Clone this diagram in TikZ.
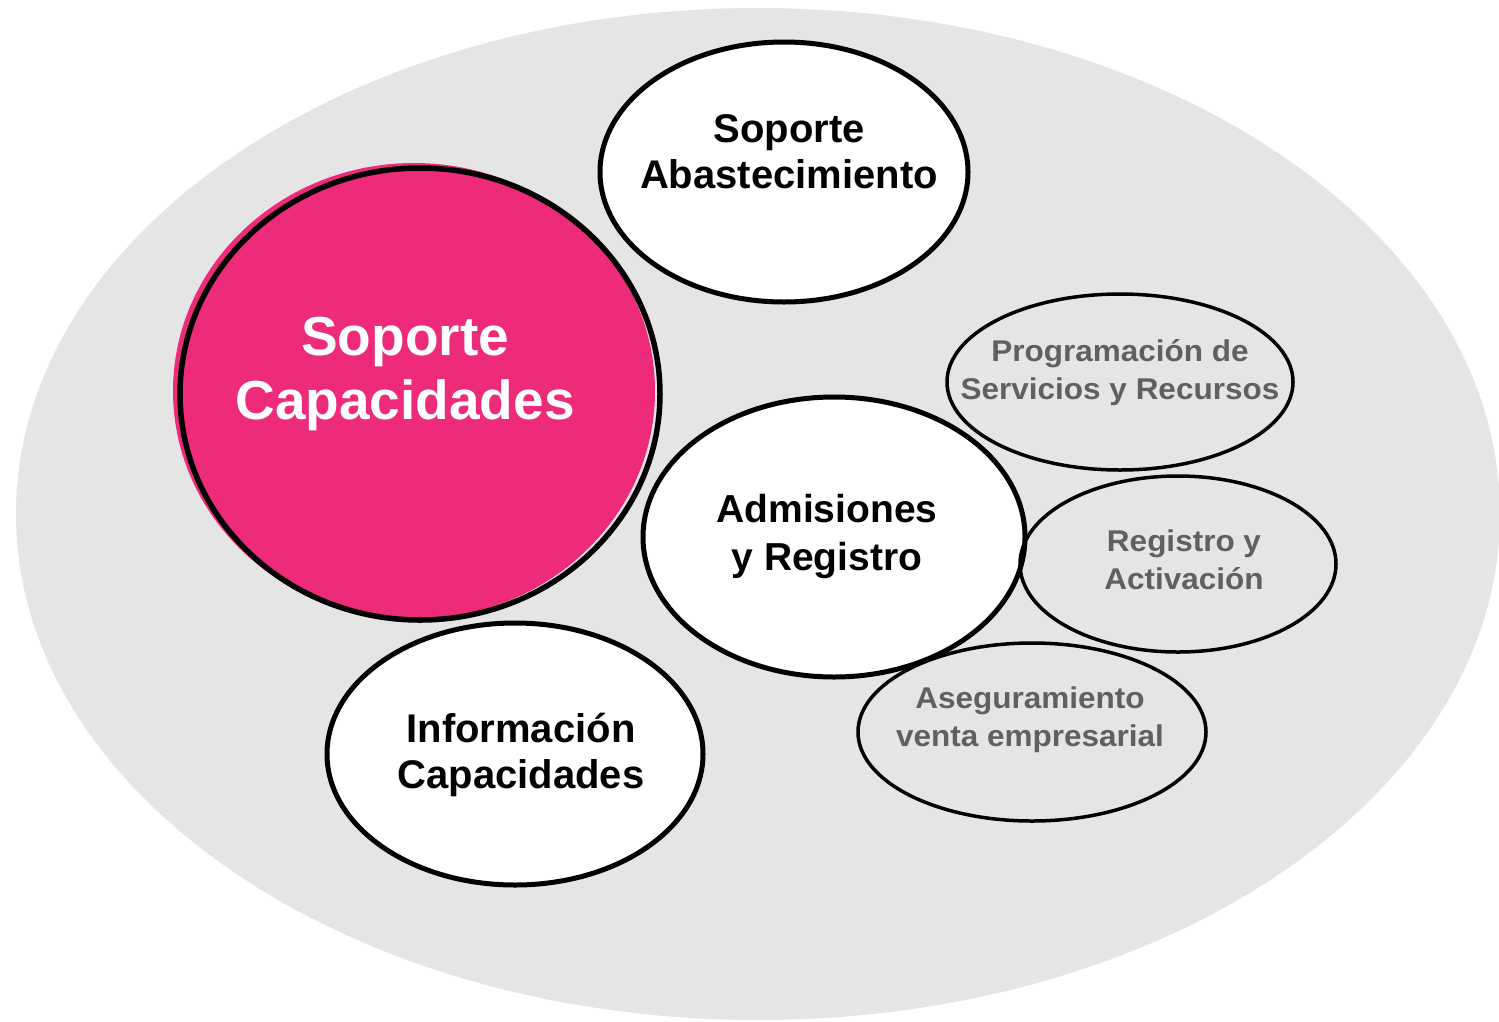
\documentclass[tikz,border=0pt]{standalone}
\usepackage{fontspec}
\setmainfont{Liberation Sans}
\newfontfamily\grayfont[FakeStretch=1.05]{Liberation Sans Bold}
\newfontfamily\pinkfont{Liberation Sans Bold}
\usetikzlibrary{shapes.geometric}
\definecolor{pinkfill}{RGB}{238,42,123}
\definecolor{bggray}{RGB}{229,229,229}
\definecolor{textgray}{RGB}{96,96,96}
\begin{document}
\begin{tikzpicture}[x=1pt,y=-1pt,
  blob/.style={ellipse, inner sep=0pt, line width=5pt, draw=black},
  small/.style={ellipse, inner sep=0pt, line width=3.5pt, draw=black},
  bigtext/.style={align=center, font=\bfseries\fontsize{40}{46}\selectfont, text=black},
  graytext/.style={align=center, font=\grayfont\fontsize{30}{38}\selectfont, text=textgray}]
\useasboundingbox (0,0) rectangle (1499,1021);
\node[ellipse, fill=bggray, inner sep=0pt, minimum width=1484pt, minimum height=1012pt] (bg) at (758,514) {};
\node[blob, fill=white, minimum width=368pt, minimum height=260pt] (abast) at (784,172) {};
\fill[pinkfill] (414,391) ellipse [x radius=241pt, y radius=228pt];
\node[blob, line width=5.5pt, minimum width=480pt, minimum height=452pt] (cap) at (420,394) {};
\node[blob, fill=white, minimum width=382pt, minimum height=280pt] (adm) at (834,537) {};
\node[blob, fill=white, minimum width=376pt, minimum height=262pt] (info) at (515,754) {};
\node[small, minimum width=346pt, minimum height=176pt] (prog) at (1120,382) {};
\node[small, minimum width=316pt, minimum height=176pt] (reg) at (1178,564) {};
\node[small, minimum width=348pt, minimum height=178pt] (aseg) at (1032,732) {};
\node[bigtext, font=\pinkfont\fontsize{55}{64}\selectfont, text=white] (capt) at (405,374) {Soporte\\Capacidades};
\node[bigtext] (abastt) at (789,152) {Soporte\\Abastecimiento};
\node[bigtext, font=\bfseries\fontsize{39}{48}\selectfont] (admt) at (827,536) {Admisiones\\y Registro};
\node[bigtext] (infot) at (521,755) {Información\\Capacidades};
\node[graytext] (progt) at (1120,373) {Programación de\\Servicios y Recursos};
\node[graytext] (regt) at (1184,560) {Registro y\\Activación};
\node[graytext] (asegt) at (1030,720) {Aseguramiento\\venta empresarial};
\end{tikzpicture}
\end{document}
